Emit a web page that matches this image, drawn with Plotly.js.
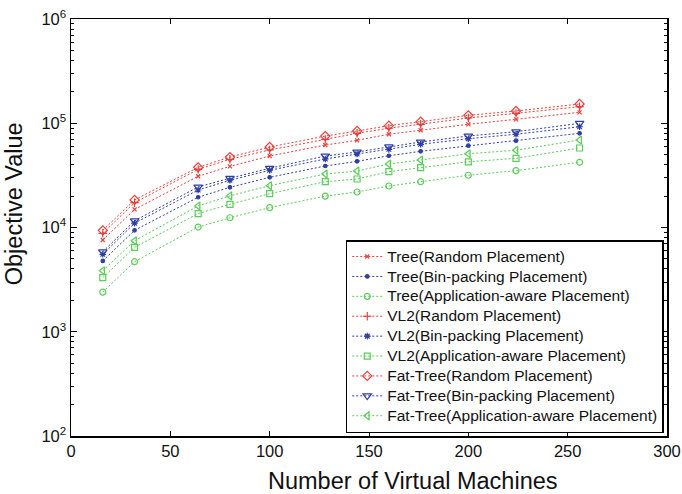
<!DOCTYPE html>
<html>
<head>
<meta charset="utf-8">
<script src="https://cdn.plot.ly/plotly-3.0.1.min.js"></script>
<style>
html,body{margin:0;padding:0;background:#fff;}
#chart{width:682px;height:494px;}
.legendtext{font-size:15.5px !important;}
</style>
</head>
<body>
<div id="chart"></div>
<script>
const vms = [16, 32, 64, 80, 100, 128, 144, 160, 176, 200, 224, 256];

const treeRandom   = [7590, 14900, 31000, 38600, 48500, 61800, 68600, 78400, 85600, 97700, 109100, 127300];
const treeBin      = [4780, 9400, 19500, 24300, 30300, 38900, 43100, 48800, 53800, 60900, 68000, 80100];
const treeApp      = [2400, 4700, 10100, 12400, 15500, 20000, 21900, 25000, 27500, 31700, 35100, 42200];
const vl2Random    = [8800, 17300, 36100, 45100, 55400, 70100, 80100, 89500, 97700, 112300, 124500, 144100];
const vl2Bin       = [5530, 11000, 22900, 28400, 35400, 45400, 50700, 56200, 62800, 71100, 78400, 92600];
const vl2App       = [3300, 6450, 13600, 16700, 21100, 27500, 29200, 34300, 37500, 42700, 46100, 57900];
const fatRandom    = [9400, 18400, 37800, 47400, 59200, 75300, 84300, 94800, 103600, 119200, 131100, 153000];
const fatBin       = [5860, 11600, 24500, 29700, 37000, 48500, 53000, 59600, 66100, 75500, 83000, 99800];
const fatApp       = [3850, 7470, 16100, 20100, 25200, 32600, 34800, 40700, 44400, 51000, 55100, 69100];

const seriesNames = [
  "Tree(Random Placement)",
  "Tree(Bin-packing Placement)",
  "Tree(Application-aware Placement)",
  "VL2(Random Placement)",
  "VL2(Bin-packing Placement)",
  "VL2(Application-aware Placement)",
  "Fat-Tree(Random Placement)",
  "Fat-Tree(Bin-packing Placement)",
  "Fat-Tree(Application-aware Placement)"
];
const seriesValues = [treeRandom, treeBin, treeApp, vl2Random, vl2Bin, vl2App, fatRandom, fatBin, fatApp];

const xTitle = "Number of Virtual Machines";
const yTitle = "Objective Value";
const yTickVals = [100, 1000, 10000, 100000, 1000000];
const yTickText = ["10<sup>2</sup>", "10<sup>3</sup>", "10<sup>4</sup>", "10<sup>5</sup>", "10<sup>6</sup>"];
const xTickVals = [0, 50, 100, 150, 200, 250, 300];

const RED = "#e8403c", BLUE = "#2f3fa3", GREEN = "#5ccc5a";
const colors = [RED, BLUE, GREEN, RED, BLUE, GREEN, RED, BLUE, GREEN];
const symbols = ["x-thin-open", "circle", "circle-open", "cross-thin-open", "asterisk-open", "square-open", "diamond-open", "triangle-down-open", "triangle-left-open"];
const sizes = [4, 3.5, 6, 6, 5.5, 6, 7, 7.5, 7];

const minorVals = [];
for (let d = 100; d < 1000000; d *= 10) {
  for (let k = 2; k <= 9; k++) minorVals.push(k * d);
}

const traces = seriesNames.map((name, i) => ({
  x: vms,
  y: seriesValues[i],
  name: name,
  type: "scatter",
  mode: "lines+markers",
  line: {color: colors[i], width: 1, dash: "2px,2px"},
  marker: {symbol: symbols[i], size: sizes[i], color: colors[i], line: {color: colors[i], width: 1.2}}
}));

const layout = {
  width: 682,
  height: 494,
  margin: {l: 71, r: 15, t: 19, b: 58},
  paper_bgcolor: "#fff",
  plot_bgcolor: "#fff",
  font: {family: "Liberation Sans, Arial, sans-serif", color: "#111"},
  showlegend: true,
  xaxis: {
    range: [0, 300],
    tickmode: "array",
    tickvals: xTickVals,
    ticks: "inside",
    ticklen: 5,
    tickcolor: "#000",
    showline: true,
    linecolor: "#000",
    linewidth: 1.5,
    mirror: "allticks",
    showgrid: false,
    zeroline: false,
    tickfont: {size: 16.5, color: "#111"}
  },
  yaxis: {
    type: "log",
    range: [2, 6],
    tickmode: "array",
    tickvals: yTickVals,
    ticktext: yTickText,
    ticks: "inside",
    ticklen: 6,
    tickcolor: "#000",
    showline: true,
    linecolor: "#000",
    linewidth: 1.5,
    mirror: "allticks",
    showgrid: false,
    zeroline: false,
    tickfont: {size: 16.5, color: "#111"},
    minor: {tickmode: "array", tickvals: minorVals, ticks: "inside", ticklen: 3, tickcolor: "#000", showgrid: false}
  },
  annotations: [
    {text: xTitle, xref: "paper", yref: "paper", x: 0.573, y: -0.108, xanchor: "center", yanchor: "middle",
     showarrow: false, font: {size: 23.5, color: "#111"}},
    {text: yTitle, xref: "paper", yref: "paper", x: -0.0955, y: 0.556, xanchor: "center", yanchor: "middle",
     textangle: -90, showarrow: false, font: {size: 23.5, color: "#111"}}
  ],
  legend: {
    x: 0.461,
    xanchor: "left",
    y: 0.007,
    yanchor: "bottom",
    bgcolor: "#fff",
    bordercolor: "#000",
    borderwidth: 1.5,
    font: {size: 13, color: "#111"},
    tracegroupgap: 0,
    itemwidth: 30
  }
};

Plotly.newPlot("chart", traces, layout, {displayModeBar: false, staticPlot: true});
</script>
</body>
</html>
